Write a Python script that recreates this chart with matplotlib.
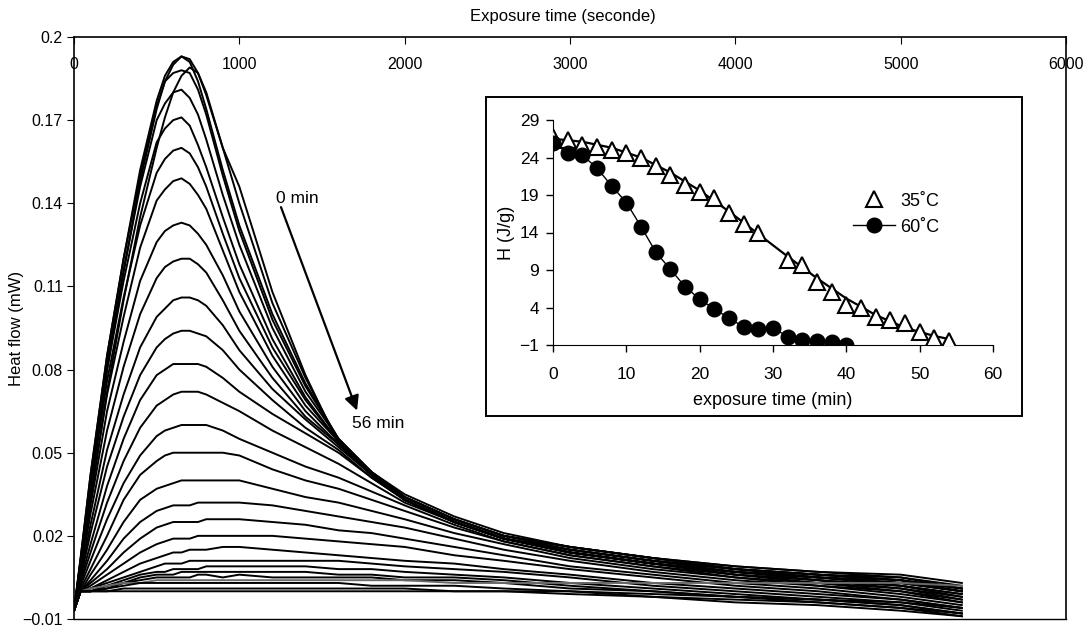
import numpy as np
import matplotlib
matplotlib.use("Agg")
import matplotlib.pyplot as plt
from matplotlib.patches import Rectangle

plt.rcParams['font.family'] = ['Liberation Sans', 'DejaVu Sans']

# main chart: heat flow curves, one per exposure time (0, 2, ... 56 min)
time_s = [0, 40, 100, 200, 300, 400, 500, 550, 600, 650, 700, 750, 800, 900, 1000, 1200,
          1400, 1600, 1800, 2000, 2300, 2600, 3000, 3500, 4000, 4500, 5000, 5370]

heat_flow = [
    [-0.007, 0.010, 0.038, 0.080, 0.115, 0.148, 0.174, 0.184, 0.190, 0.193, 0.192, 0.187, 0.179, 0.160, 0.146, 0.108, 0.078, 0.053, 0.043, 0.034, 0.026, 0.020, 0.016, 0.012, 0.009, 0.007, 0.006, 0.003],
    [-0.007, 0.012, 0.042, 0.085, 0.120, 0.152, 0.177, 0.186, 0.191, 0.193, 0.191, 0.184, 0.174, 0.152, 0.132, 0.100, 0.075, 0.055, 0.043, 0.034, 0.026, 0.020, 0.016, 0.012, 0.008, 0.006, 0.005, 0.002],
    [-0.007, 0.008, 0.033, 0.072, 0.105, 0.135, 0.160, 0.171, 0.180, 0.186, 0.189, 0.187, 0.180, 0.160, 0.140, 0.104, 0.077, 0.054, 0.043, 0.035, 0.027, 0.021, 0.016, 0.012, 0.009, 0.007, 0.005, 0.001],
    [-0.007, 0.012, 0.042, 0.085, 0.120, 0.150, 0.175, 0.184, 0.187, 0.188, 0.187, 0.181, 0.172, 0.150, 0.130, 0.098, 0.074, 0.055, 0.043, 0.034, 0.026, 0.020, 0.016, 0.012, 0.008, 0.006, 0.004, 0.001],
    [-0.007, 0.011, 0.040, 0.082, 0.116, 0.146, 0.170, 0.176, 0.180, 0.181, 0.178, 0.172, 0.163, 0.143, 0.125, 0.095, 0.072, 0.055, 0.043, 0.034, 0.026, 0.020, 0.015, 0.011, 0.008, 0.006, 0.004, 0.001],
    [-0.007, 0.011, 0.039, 0.080, 0.112, 0.140, 0.162, 0.167, 0.170, 0.171, 0.168, 0.161, 0.153, 0.135, 0.118, 0.091, 0.070, 0.054, 0.042, 0.033, 0.025, 0.019, 0.015, 0.011, 0.008, 0.005, 0.004, 0.000],
    [-0.007, 0.010, 0.037, 0.076, 0.106, 0.132, 0.151, 0.156, 0.159, 0.160, 0.158, 0.153, 0.146, 0.129, 0.113, 0.088, 0.069, 0.054, 0.042, 0.033, 0.025, 0.019, 0.015, 0.011, 0.007, 0.005, 0.003, 0.000],
    [-0.007, 0.009, 0.034, 0.071, 0.099, 0.124, 0.141, 0.145, 0.148, 0.149, 0.147, 0.143, 0.138, 0.123, 0.108, 0.085, 0.067, 0.054, 0.042, 0.033, 0.025, 0.019, 0.015, 0.011, 0.008, 0.006, 0.004, 0.001],
    [-0.007, 0.008, 0.031, 0.065, 0.090, 0.112, 0.126, 0.130, 0.132, 0.133, 0.132, 0.129, 0.125, 0.114, 0.101, 0.081, 0.065, 0.053, 0.042, 0.033, 0.025, 0.019, 0.014, 0.010, 0.007, 0.005, 0.003, 0.000],
    [-0.007, 0.007, 0.028, 0.058, 0.081, 0.100, 0.113, 0.117, 0.119, 0.120, 0.120, 0.118, 0.115, 0.105, 0.094, 0.077, 0.063, 0.053, 0.042, 0.033, 0.025, 0.019, 0.014, 0.010, 0.007, 0.005, 0.003, 0.000],
    [-0.007, 0.006, 0.024, 0.051, 0.071, 0.088, 0.099, 0.102, 0.105, 0.106, 0.106, 0.105, 0.103, 0.096, 0.087, 0.073, 0.062, 0.052, 0.042, 0.033, 0.025, 0.019, 0.014, 0.010, 0.007, 0.005, 0.002, -0.001],
    [-0.007, 0.005, 0.021, 0.045, 0.063, 0.078, 0.088, 0.091, 0.093, 0.094, 0.094, 0.093, 0.092, 0.087, 0.080, 0.069, 0.059, 0.051, 0.041, 0.033, 0.025, 0.019, 0.014, 0.010, 0.007, 0.004, 0.002, -0.001],
    [-0.007, 0.004, 0.017, 0.038, 0.055, 0.069, 0.078, 0.080, 0.082, 0.082, 0.082, 0.082, 0.081, 0.077, 0.072, 0.064, 0.057, 0.050, 0.041, 0.033, 0.025, 0.019, 0.014, 0.010, 0.006, 0.004, 0.002, -0.002],
    [-0.007, 0.003, 0.014, 0.032, 0.047, 0.059, 0.067, 0.069, 0.071, 0.072, 0.072, 0.072, 0.071, 0.068, 0.065, 0.058, 0.052, 0.046, 0.039, 0.032, 0.025, 0.019, 0.014, 0.010, 0.006, 0.004, 0.001, -0.002],
    [-0.007, 0.002, 0.011, 0.026, 0.039, 0.049, 0.056, 0.058, 0.059, 0.060, 0.060, 0.060, 0.060, 0.058, 0.055, 0.050, 0.045, 0.041, 0.036, 0.031, 0.024, 0.018, 0.013, 0.009, 0.006, 0.003, 0.001, -0.003],
    [-0.007, 0.001, 0.008, 0.020, 0.033, 0.042, 0.047, 0.049, 0.050, 0.050, 0.050, 0.050, 0.050, 0.050, 0.049, 0.044, 0.040, 0.037, 0.033, 0.029, 0.023, 0.018, 0.013, 0.009, 0.005, 0.003, 0.000, -0.003],
    [-0.007, 0.000, 0.006, 0.015, 0.025, 0.033, 0.037, 0.038, 0.039, 0.040, 0.040, 0.040, 0.040, 0.040, 0.040, 0.037, 0.034, 0.032, 0.029, 0.026, 0.021, 0.017, 0.012, 0.008, 0.005, 0.002, 0.000, -0.004],
    [-0.007, 0.000, 0.004, 0.011, 0.019, 0.025, 0.029, 0.030, 0.031, 0.031, 0.031, 0.032, 0.032, 0.032, 0.032, 0.031, 0.029, 0.027, 0.025, 0.023, 0.019, 0.015, 0.011, 0.007, 0.004, 0.002, -0.001, -0.004],
    [-0.007, 0.000, 0.003, 0.008, 0.014, 0.019, 0.023, 0.024, 0.025, 0.025, 0.025, 0.025, 0.026, 0.026, 0.026, 0.025, 0.024, 0.022, 0.021, 0.019, 0.016, 0.013, 0.009, 0.006, 0.003, 0.001, -0.002, -0.005],
    [-0.007, 0.000, 0.002, 0.006, 0.010, 0.014, 0.017, 0.018, 0.019, 0.019, 0.019, 0.020, 0.020, 0.020, 0.020, 0.020, 0.019, 0.018, 0.017, 0.016, 0.013, 0.011, 0.008, 0.005, 0.002, 0.000, -0.003, -0.006],
    [-0.007, 0.000, 0.001, 0.004, 0.007, 0.010, 0.012, 0.013, 0.014, 0.014, 0.015, 0.015, 0.015, 0.016, 0.016, 0.015, 0.014, 0.013, 0.012, 0.011, 0.010, 0.008, 0.006, 0.003, 0.001, -0.001, -0.003, -0.006],
    [-0.007, 0.000, 0.001, 0.003, 0.005, 0.007, 0.009, 0.010, 0.010, 0.010, 0.011, 0.011, 0.011, 0.011, 0.011, 0.011, 0.011, 0.011, 0.010, 0.009, 0.008, 0.007, 0.005, 0.002, 0.000, -0.002, -0.004, -0.007],
    [-0.007, 0.000, 0.000, 0.002, 0.004, 0.006, 0.007, 0.007, 0.008, 0.008, 0.008, 0.008, 0.009, 0.009, 0.009, 0.009, 0.009, 0.008, 0.008, 0.007, 0.006, 0.005, 0.003, 0.001, -0.001, -0.003, -0.005, -0.008],
    [-0.007, 0.000, 0.000, 0.002, 0.003, 0.005, 0.006, 0.006, 0.006, 0.007, 0.007, 0.007, 0.007, 0.007, 0.007, 0.007, 0.007, 0.006, 0.006, 0.005, 0.005, 0.004, 0.002, 0.000, -0.002, -0.003, -0.005, -0.008],
    [-0.007, 0.000, 0.000, 0.001, 0.003, 0.004, 0.005, 0.005, 0.005, 0.005, 0.005, 0.006, 0.006, 0.005, 0.006, 0.005, 0.005, 0.005, 0.005, 0.004, 0.004, 0.003, 0.001, 0.000, -0.002, -0.004, -0.006, -0.009],
    [-0.007, 0.000, 0.001, 0.002, 0.003, 0.003, 0.004, 0.004, 0.004, 0.004, 0.004, 0.004, 0.004, 0.004, 0.004, 0.004, 0.004, 0.004, 0.004, 0.004, 0.003, 0.003, 0.003, 0.003, 0.003, 0.003, 0.003, 0.002],
    [-0.007, 0.000, 0.000, 0.001, 0.002, 0.003, 0.003, 0.003, 0.003, 0.003, 0.003, 0.003, 0.003, 0.003, 0.003, 0.003, 0.003, 0.003, 0.002, 0.002, 0.002, 0.001, 0.000, -0.002, -0.003, -0.004, -0.006, -0.008],
    [-0.007, 0.000, 0.000, 0.000, 0.001, 0.001, 0.001, 0.001, 0.001, 0.001, 0.001, 0.001, 0.001, 0.001, 0.001, 0.001, 0.001, 0.001, 0.001, 0.001, 0.000, 0.000, -0.001, -0.002, -0.004, -0.005, -0.007, -0.009],
    [-0.007, 0.000, 0.000, 0.000, 0.000, 0.000, 0.000, 0.000, 0.000, 0.000, 0.000, 0.000, 0.000, 0.000, 0.000, 0.000, 0.000, 0.000, 0.000, 0.000, 0.000, 0.000, 0.000, -0.001, -0.002, -0.003, -0.004, -0.006],
]
gray_curve = 25

# inset: enthalpy vs exposure time
t35 = [0, 2, 4, 6, 8, 10, 12, 14, 16, 18, 20, 22, 24, 26, 28,
       32, 34, 36, 38, 40, 42, 44, 46, 48, 50, 52, 54]
h35 = [26.8, 26.4, 25.7, 25.4, 25.0, 24.6, 23.9, 22.9, 21.7, 20.4, 19.4, 18.6, 16.6, 15.2, 13.9,
       10.3, 9.7, 7.4, 6.1, 4.3, 4.0, 2.8, 2.3, 1.9, 0.8, -0.1, -0.4]
t35_fit = [0, 4, 8, 12, 16, 20, 24, 28, 32, 36, 40, 44, 48, 52, 54]
h35_fit = [26.5, 26.1, 25.3, 24.0, 22.0, 19.6, 16.8, 13.8, 10.8, 7.9, 5.2, 3.0, 1.3, 0.2, -0.2]
t60 = [0, 2, 4, 6, 8, 10, 12, 14, 16, 18, 20, 22, 24, 26, 28, 30, 32, 34, 36, 38, 40]
h60 = [26.0, 24.6, 24.3, 22.6, 20.2, 18.0, 14.8, 11.4, 9.1, 6.8, 5.1, 3.8, 2.6, 1.4, 1.2, 1.3,
       0.1, -0.3, -0.4, -0.6, -1.0]

W, H = 1087, 632
fig = plt.figure(figsize=(W / 100, H / 100), dpi=100)
ax = fig.add_axes([74 / W, 1 - 619 / H, 992 / W, 582 / H])

for i, row in enumerate(heat_flow):
    col = '#6a6a6a' if i == gray_curve else 'black'
    ax.plot(time_s, row, color=col, lw=1.4, solid_joinstyle='round')

ax.set_xlim(0, 6000)
ax.set_ylim(-0.01, 0.2)
ax.set_xticks(range(0, 6001, 1000))
ax.set_yticks([-0.01, 0.02, 0.05, 0.08, 0.11, 0.14, 0.17, 0.2])
ax.set_yticklabels(['\u22120.01', '0.02', '0.05', '0.08', '0.11', '0.14', '0.17', '0.2'])
ax.tick_params(axis='x', top=True, bottom=False, labeltop=True, labelbottom=False,
               direction='in', length=5, pad=-25, labelsize=11.5)
ax.tick_params(axis='y', direction='out', length=5, labelsize=11.5, pad=3)
for s in ax.spines.values():
    s.set_linewidth(1.2)
ax.spines['bottom'].set_linewidth(1.0)

fig.text(563 / W, 1 - 16 / H, 'Exposure time (seconde)', ha='center', va='center', fontsize=12)
fig.text(17 / W, 1 - 328 / H, 'Heat flow (mW)', ha='center', va='center', rotation=90, fontsize=12)

ax.annotate('', xy=(1712, 0.0652), xytext=(1252, 0.1386),
            arrowprops=dict(arrowstyle='-|>', lw=1.6, color='black', mutation_scale=22,
                            shrinkA=0, shrinkB=0))
ax.text(1222, 0.1418, '0 min', ha='left', va='center', fontsize=12.5)
ax.text(1682, 0.0605, '56 min', ha='left', va='center', fontsize=12.5)

# inset frame
fig.add_artist(Rectangle((486 / W, 1 - 416 / H), 536 / W, 319 / H, transform=fig.transFigure,
                         facecolor='white', edgecolor='black', lw=1.4, zorder=1))

ins = fig.add_axes([553 / W, 1 - 345 / H, 440 / W, 225 / H], zorder=2)
ins.patch.set_visible(False)
ins.plot(t35_fit, h35_fit, color='black', lw=1.6, zorder=2)
ins.plot(t35, h35, linestyle='none', marker='^', ms=11.5, mfc='white', mec='black', mew=1.5,
         zorder=3, label='35\u02daC')
ins.plot(t60, h60, color='black', lw=1.0, marker='o', ms=10.5, mfc='black', mec='black',
         zorder=4, label='60\u02daC')
ins.set_xlim(0, 60)
ins.set_ylim(-1, 29)
ins.set_xticks(range(0, 61, 10))
ins.set_yticks([-1, 4, 9, 14, 19, 24, 29])
ins.set_yticklabels(['\u22121', '4', '9', '14', '19', '24', '29'])
ins.spines['top'].set_visible(False)
ins.spines['right'].set_visible(False)
ins.tick_params(axis='x', direction='out', length=5, labelsize=12.5, width=1.0, pad=11)
ins.tick_params(axis='y', direction='out', length=5, labelsize=12.5, width=1.0, pad=5)
ins.set_xlabel('exposure time (min)', fontsize=13, labelpad=7)
ins.set_ylabel('H (J/g)', fontsize=13, labelpad=3)
ins.legend(loc='upper left', bbox_to_anchor=(0.645, 0.75), frameon=False, fontsize=13,
           handlelength=2.3, handletextpad=0.3, labelspacing=0.5)

fig.savefig('out.png', dpi=100)
